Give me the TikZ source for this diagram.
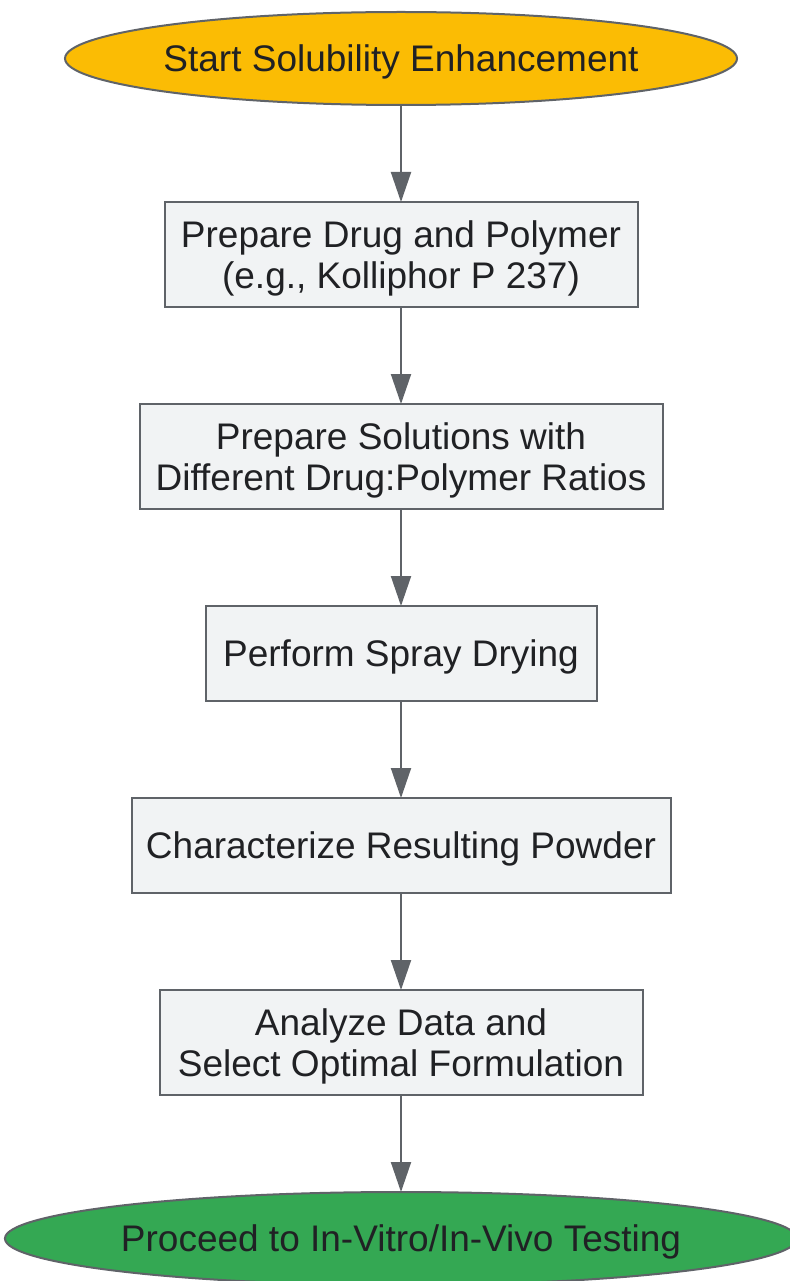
\documentclass[tikz,border=0pt]{standalone}
\usepackage{fontspec}
\setmainfont{Liberation Sans}
\usetikzlibrary{shapes.geometric,positioning,arrows.meta}
\definecolor{startYellow}{HTML}{FBBC04}
\definecolor{endGreen}{HTML}{34A853}
\definecolor{boxFill}{HTML}{F1F3F4}
\definecolor{edgeGray}{HTML}{5F6368}
\definecolor{textDark}{HTML}{202124}

\begin{document}
\begin{tikzpicture}[x=1pt, y=1pt]
  \tikzset{
    every node/.style={font=\fontsize{37}{41}\selectfont, text=textDark, align=center, outer sep=0pt, text depth=0pt},
    terminal/.style={ellipse, draw=edgeGray, line width=2pt, minimum height=93pt, inner sep=0pt},
    stepbox/.style={rectangle, draw=edgeGray, fill=boxFill, line width=2pt, inner sep=0pt},
    flow/.style={-{Triangle[length=30pt, width=20pt]}, draw=edgeGray, line width=2pt}
  }
  \useasboundingbox (0,0) rectangle (789,-1281);
  \node[terminal, fill=startYellow, minimum width=672pt] (start) at (401,-58.5) {Start Solubility Enhancement};
  \node[stepbox, minimum width=473pt, minimum height=105pt, below=97pt of start] (prep) {Prepare Drug and Polymer\\(e.g., Kolliphor P 237)};
  \node[stepbox, minimum width=523pt, minimum height=105pt, below=97pt of prep] (ratios) {Prepare Solutions with\\Different Drug:Polymer Ratios};
  \node[stepbox, minimum width=391pt, minimum height=95pt, below=97pt of ratios] (spray) {Perform Spray Drying};
  \node[stepbox, minimum width=539pt, minimum height=95pt, below=97pt of spray] (charact) {Characterize Resulting Powder};
  \node[stepbox, minimum width=483pt, minimum height=105pt, below=97pt of charact] (analyze) {Analyze Data and\\Select Optimal Formulation};
  \node[terminal, fill=endGreen, minimum width=780pt, below=97pt of analyze] (proceed) {Proceed to In-Vitro/In-Vivo Testing};
  \draw[flow] (start) -- (prep);
  \draw[flow] (prep) -- (ratios);
  \draw[flow] (ratios) -- (spray);
  \draw[flow] (spray) -- (charact);
  \draw[flow] (charact) -- (analyze);
  \draw[flow] (analyze) -- (proceed);
\end{tikzpicture}
\end{document}
